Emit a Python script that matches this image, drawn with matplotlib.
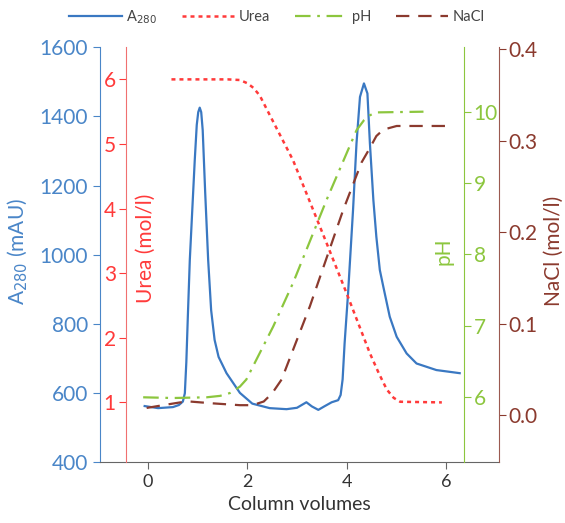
import matplotlib.pyplot as plt
from matplotlib.lines import Line2D

plt.rcParams["font.family"] = ["Lato", "DejaVu Sans"]

# A280 trace (column volumes, mAU)
a280_cv = [-0.07, 0.2, 0.5, 0.62, 0.70, 0.74, 0.77, 0.80, 0.84, 0.89, 0.94, 0.98,
           1.01, 1.04, 1.07, 1.10, 1.15, 1.21, 1.27, 1.34, 1.42, 1.58, 1.85, 2.10,
           2.45, 2.79, 3.0, 3.19, 3.30, 3.43, 3.55, 3.70, 3.83, 3.88, 3.92, 3.96,
           4.03, 4.13, 4.20, 4.27, 4.35, 4.42, 4.47, 4.54, 4.60, 4.67, 4.74, 4.87,
           5.01, 5.21, 5.41, 5.81, 6.28]
a280 = [563, 557, 560, 566, 576, 600, 690, 820, 985, 1130, 1274, 1375,
        1412, 1425, 1412, 1360, 1180, 985, 840, 754, 705, 658, 601, 570,
        557, 554, 558, 574, 562, 552, 562, 574, 580, 595, 640, 744,
        889, 1129, 1322, 1456, 1495, 1466, 1322, 1158, 1052, 956, 908, 821,
        763, 715, 686, 667, 658]

# Urea (mol/l)
urea_cv = [0.47, 1.0, 1.6, 1.85, 2.0, 2.12, 2.25, 2.45, 2.92, 3.60, 4.0, 4.47, 4.65,
           4.81, 4.95, 5.08, 5.92]
urea = [6.0, 6.0, 6.0, 5.99, 5.94, 5.87, 5.75, 5.45, 4.75, 3.46, 2.69, 1.76, 1.45,
        1.20, 1.07, 1.01, 1.0]

# pH
ph_cv = [-0.1, 0.5, 1.18, 1.45, 1.65, 1.85, 1.98, 2.25, 2.52, 2.92, 3.6, 4.2, 4.35,
         4.47, 4.6, 5.55]
ph = [6.0, 5.99, 6.0, 6.02, 6.06, 6.15, 6.25, 6.62, 6.99, 7.6, 8.77, 9.74, 9.88,
      9.95, 9.99, 10.0]

# NaCl (mol/l)
nacl_cv = [-0.03, 0.3, 0.64, 0.84, 1.3, 1.85, 2.1, 2.33, 2.5, 2.69, 3.26, 3.93, 4.3,
           4.47, 4.6, 4.74, 5.01, 6.15]
nacl = [0.008, 0.011, 0.014, 0.015, 0.013, 0.011, 0.011, 0.015, 0.024, 0.039, 0.119,
        0.224, 0.276, 0.292, 0.305, 0.312, 0.316, 0.316]

BLUE = "#3a78c2"
BLUE_T = "#4a86c8"
RED = "#ff3a3a"
GREEN = "#8cc63e"
BROWN = "#8b3a2e"
GREY = "#333333"

fig = plt.figure(figsize=(5.65, 5.23), dpi=100)
ax = fig.add_axes([0.177, 0.1157, 0.706, 0.7943])

# main (A280) axis
ax.plot(a280_cv, a280, color=BLUE, lw=1.6, zorder=5)
ax.set_xlim(-0.97, 7.07)
ax.set_ylim(400, 1600)
ax.set_xticks([0, 2, 4, 6])
ax.set_yticks(range(400, 1601, 200))
for s in ["top", "right"]:
    ax.spines[s].set_visible(False)
ax.spines["left"].set_color(BLUE_T)
ax.spines["bottom"].set_color("#666666")
ax.tick_params(axis="y", colors=BLUE_T, labelsize=15, length=5)
ax.tick_params(axis="x", colors="#666666", labelcolor=GREY, labelsize=13, length=5)
ax.set_xlabel("Column volumes", fontsize=14, color=GREY, labelpad=4)
ax.set_ylabel("A$_{280}$ (mAU)", fontsize=15, color=BLUE_T, va="center")
ax.yaxis.set_label_coords(-0.207, 0.507)

# urea axis
ax_u = ax.twinx()
ax_u.plot(urea_cv, urea, color=RED, lw=1.8, dashes=(1.6, 1.6))
ax_u.set_ylim(0.07, 6.5)
ax_u.set_yticks(range(1, 7))
ax_u.yaxis.set_ticks_position("left")
ax_u.yaxis.set_label_position("left")
for s in ["top", "right", "bottom"]:
    ax_u.spines[s].set_visible(False)
ax_u.spines["left"].set_position(("axes", 0.064))
ax_u.spines["left"].set_color("#f07070")
ax_u.tick_params(axis="y", colors=RED, labelsize=15, length=5, pad=2)
ax_u.set_ylabel("Urea (mol/l)", fontsize=15, color=RED, va="center")
ax_u.yaxis.set_label_coords(0.115, 0.516)

# pH axis
ax_p = ax.twinx()
ax_p.plot(ph_cv, ph, color=GREEN, lw=1.6, dashes=(7, 3, 1.2, 3))
ax_p.set_ylim(5.087, 10.905)
ax_p.set_yticks(range(6, 11))
for s in ["top", "left", "bottom"]:
    ax_p.spines[s].set_visible(False)
ax_p.spines["right"].set_position(("axes", 0.912))
ax_p.spines["right"].set_color(GREEN)
ax_p.tick_params(axis="y", colors=GREEN, labelsize=15, length=5, pad=2)
ax_p.set_ylabel("pH", fontsize=15, color=GREEN, va="center")
ax_p.yaxis.set_label_coords(0.86, 0.509)

# NaCl axis
ax_n = ax.twinx()
ax_n.plot(nacl_cv, nacl, color=BROWN, lw=1.6, dashes=(6, 4))
ax_n.set_ylim(-0.0516, 0.4022)
ax_n.set_yticks([0.0, 0.1, 0.2, 0.3, 0.4])
ax_n.set_yticklabels(["0.0", "0.1", "0.2", "0.3", "0.4"])
for s in ["top", "left", "bottom"]:
    ax_n.spines[s].set_visible(False)
ax_n.spines["right"].set_color("#9b5a50")
ax_n.tick_params(axis="y", colors=BROWN, labelsize=15, length=5, pad=2)
ax_n.set_ylabel("NaCl (mol/l)", fontsize=15, color=BROWN, va="center")
ax_n.yaxis.set_label_coords(1.138, 0.51)

handles = [
    Line2D([], [], color=BLUE, lw=1.6),
    Line2D([], [], color=RED, lw=1.8, dashes=(1.6, 1.6)),
    Line2D([], [], color=GREEN, lw=1.6, dashes=(7, 3, 1.2, 3)),
    Line2D([], [], color=BROWN, lw=1.6, dashes=(6, 4)),
]
fig.legend(handles, ["A$_{280}$", "Urea", "pH", "NaCl"], loc="center",
           bbox_to_anchor=(0.49, 0.968), ncol=4, frameon=False, fontsize=10.5,
           handlelength=3.6, columnspacing=1.7, handletextpad=0.3,
           labelcolor="#444444")

fig.savefig("out.png", dpi=100)
